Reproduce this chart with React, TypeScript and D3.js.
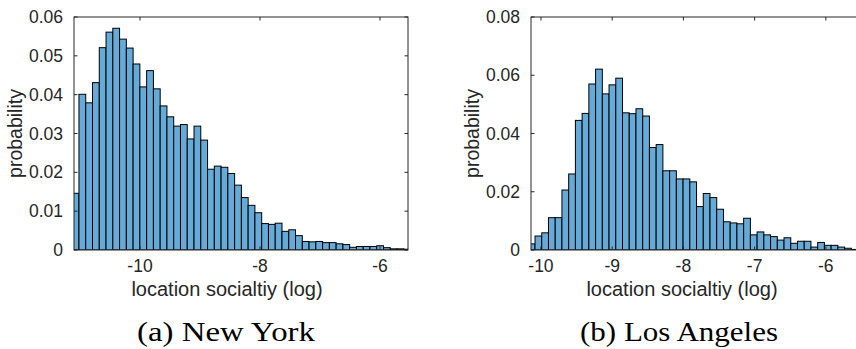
import React from "react";
import * as d3 from "d3";

// ---------- data ----------
// New York histogram (probability per bin), bins of equal width starting at nyBinStart
const nyBinStart = -11.13;
const nyBinWidth = 0.1128;
const nyValues = [
  0.0146, 0.0401, 0.0379, 0.0431, 0.0521, 0.0561, 0.0571, 0.0543, 0.052, 0.0479,
  0.042, 0.0462, 0.0415, 0.0371, 0.0343, 0.0319, 0.0323, 0.0286, 0.0319, 0.0283,
  0.0208, 0.0216, 0.0213, 0.0197, 0.0167, 0.0135, 0.0115, 0.0096, 0.0068, 0.0066,
  0.0069, 0.0048, 0.0052, 0.0037, 0.0022, 0.0021, 0.0022, 0.0019, 0.0019, 0.0016,
  0.0014, 0.0007, 0.0009, 0.0009, 0.0009, 0.0011, 0.0006, 0.0003, 0.0003, 0.0002,
];
const nyXDomain = [-11.1, -5.533];
const nyYDomain = [0, 0.06];
const nyXTicks = [-10, -8, -6];
const nyYTicks = [0, 0.01, 0.02, 0.03, 0.04, 0.05, 0.06];

// Los Angeles histogram
const laBinStart = -10.178;
const laBinWidth = 0.0945;
const laValues = [
  0.0021, 0.0048, 0.0059, 0.0111, 0.0111, 0.0206, 0.0261, 0.0445, 0.0469, 0.057,
  0.0621, 0.0536, 0.0567, 0.059, 0.0471, 0.0468, 0.0485, 0.046, 0.0352, 0.0362,
  0.0272, 0.0272, 0.0244, 0.0244, 0.0234, 0.0149, 0.0194, 0.018, 0.014, 0.0097,
  0.0093, 0.009, 0.0109, 0.0052, 0.0062, 0.0052, 0.0046, 0.0034, 0.0042, 0.0023,
  0.003, 0.003, 0.001, 0.0026, 0.0016, 0.0016, 0.001, 0.0006, 0.0002,
];
const laXDomain = [-10.14, -5.45];
const laYDomain = [0, 0.08];
const laXTicks = [-10, -9, -8, -7, -6];
const laYTicks = [0, 0.02, 0.04, 0.06, 0.08];

const xLabel = "location socialtiy (log)";
const yLabel = "probability";
const captions = ["(a) New York", "(b) Los Angeles"];

// ---------- styling ----------
const W = 856;
const H = 349;
const AX = "#262626";
const FILL = "#66aad7";
const SANS = "'Liberation Sans', Arial, Helvetica, sans-serif";
const SERIF = "'Liberation Serif', 'Times New Roman', serif";

type PanelProps = {
  id: string;
  left: number;
  binStart: number;
  binWidth: number;
  values: number[];
  xDomain: number[];
  yDomain: number[];
  xTicks: number[];
  yTicks: number[];
  xLabelX: number;
  caption: string;
  captionX: number;
  captionLen: number;
};

function fmtY(v: number) {
  if (v === 0) return "0";
  return d3.format(".2f")(v);
}

function Panel(p: PanelProps) {
  const top = 17;
  const pw = 334;
  const ph = 233;
  const x = d3.scaleLinear().domain(p.xDomain).range([p.left, p.left + pw]);
  const y = d3.scaleLinear().domain(p.yDomain).range([top + ph, top]);
  const tl = 3.5;
  const bins = p.values.map((v, i) => ({
    x0: p.binStart + i * p.binWidth,
    x1: p.binStart + (i + 1) * p.binWidth,
    v,
  }));
  const clipId = "clip-" + p.id;
  return (
    <g>
      <defs>
        <clipPath id={clipId}>
          <rect x={p.left} y={top - 1} width={pw} height={ph + 1} />
        </clipPath>
      </defs>
      <g clipPath={`url(#${clipId})`}>
        {bins.map((b, i) => (
          <rect
            key={i}
            x={x(b.x0)}
            y={y(b.v)}
            width={x(b.x1) - x(b.x0)}
            height={y(0) - y(b.v)}
            fill={FILL}
            stroke="#000"
            strokeWidth={1}
          />
        ))}
      </g>
      {/* box */}
      <rect x={p.left} y={top} width={pw} height={ph} fill="none" stroke={AX} strokeWidth={1} />
      {/* x ticks */}
      {p.xTicks.map((t) => (
        <g key={"xt" + t}>
          <line x1={x(t)} x2={x(t)} y1={top + ph} y2={top + ph - tl} stroke={AX} />
          <line x1={x(t)} x2={x(t)} y1={top} y2={top + tl} stroke={AX} />
          <text
            x={x(t)}
            y={top + ph + 21.5}
            textAnchor="middle"
            fontFamily={SANS}
            fontSize={17.5}
            fill={AX}
          >
            {t}
          </text>
        </g>
      ))}
      {/* y ticks */}
      {p.yTicks.map((t) => (
        <g key={"yt" + t}>
          <line x1={p.left} x2={p.left + tl} y1={y(t)} y2={y(t)} stroke={AX} />
          <line x1={p.left + pw} x2={p.left + pw - tl} y1={y(t)} y2={y(t)} stroke={AX} />
          <text
            x={p.left - 11}
            y={y(t)}
            dy="0.35em"
            textAnchor="end"
            fontFamily={SANS}
            fontSize={17.5}
            fill={AX}
          >
            {fmtY(t)}
          </text>
        </g>
      ))}
      {/* y label */}
      <text
        transform={`translate(${p.left - 52},${top + ph / 2}) rotate(-90)`}
        textAnchor="middle"
        fontFamily={SANS}
        fontSize={19.5}
        fill={AX}
      >
        {yLabel}
      </text>
      {/* x label */}
      <text
        x={p.xLabelX}
        y={296}
        textAnchor="middle"
        fontFamily={SANS}
        fontSize={20}
        fill={AX}
      >
        {xLabel}
      </text>
      {/* caption */}
      <text
        x={p.captionX}
        y={341}
        textAnchor="middle"
        fontFamily={SERIF}
        fontSize={27}
        fill="#000"
        textLength={p.captionLen}
        lengthAdjust="spacingAndGlyphs"
      >
        {p.caption}
      </text>
    </g>
  );
}

export default function App() {
  return (
    <svg
      width={W}
      height={H}
      viewBox={`0 0 ${W} ${H}`}
      style={{ position: "absolute", left: 0, top: 0, background: "#fff" }}
    >
      <rect x={0} y={0} width={W} height={H} fill="#fff" />
      <Panel
        id="ny"
        left={74}
        binStart={nyBinStart}
        binWidth={nyBinWidth}
        values={nyValues}
        xDomain={nyXDomain}
        yDomain={nyYDomain}
        xTicks={nyXTicks}
        yTicks={nyYTicks}
        xLabelX={227}
        caption={captions[0]}
        captionX={226}
        captionLen={178}
      />
      <Panel
        id="la"
        left={531}
        binStart={laBinStart}
        binWidth={laBinWidth}
        values={laValues}
        xDomain={laXDomain}
        yDomain={laYDomain}
        xTicks={laXTicks}
        yTicks={laYTicks}
        xLabelX={682}
        caption={captions[1]}
        captionX={679}
        captionLen={198}
      />
    </svg>
  );
}
